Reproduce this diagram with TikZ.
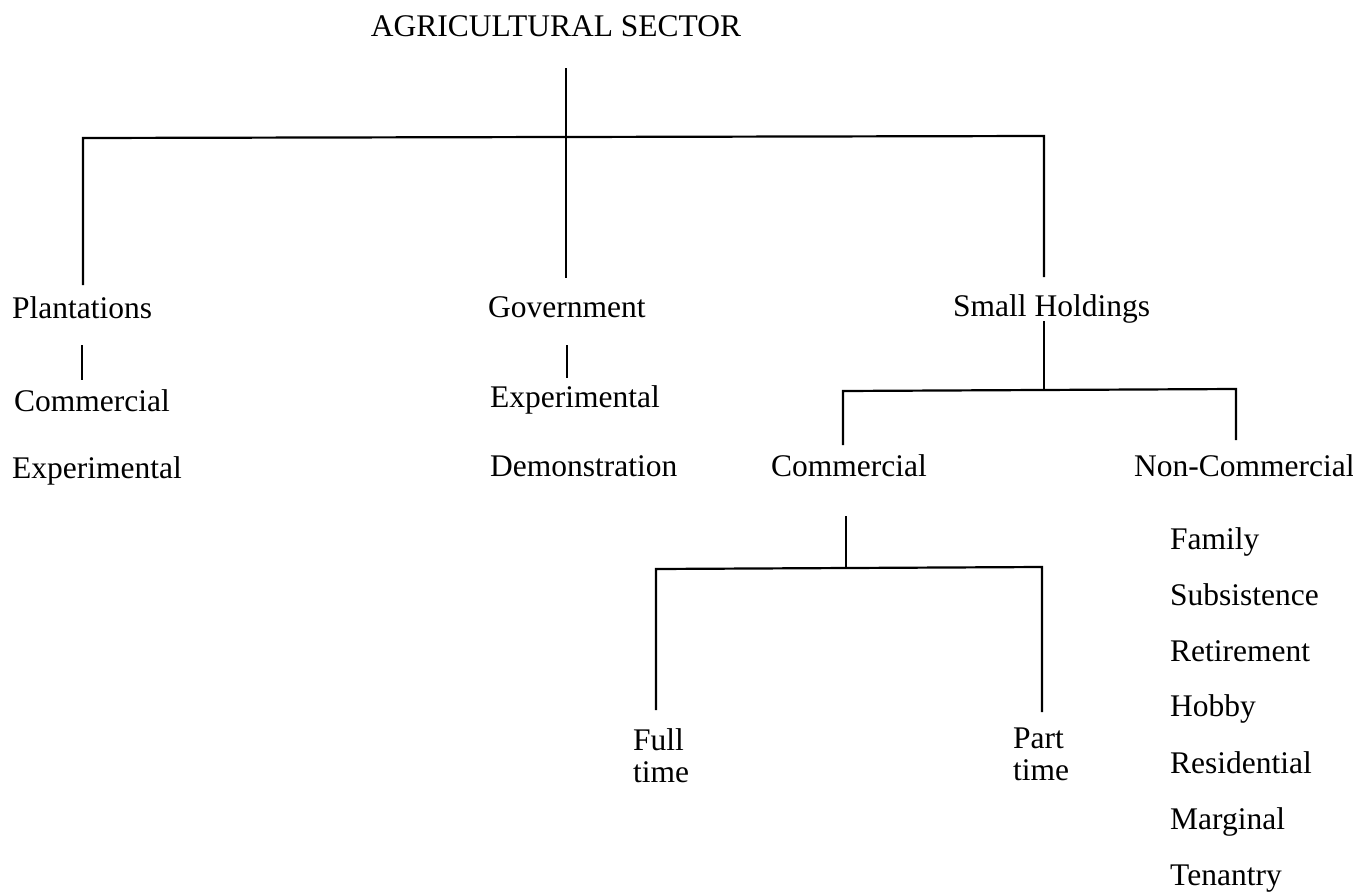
\documentclass[tikz,border=0pt]{standalone}
\usepackage{fontspec}
\setmainfont{Liberation Serif}
\begin{document}
\begin{tikzpicture}[x=1pt,y=-1pt,
  lbl/.style={anchor=base west,inner sep=0pt,font=\fontsize{31.5}{32}\selectfont},
  lbl2/.style={anchor=north west,inner sep=0pt,align=left,font=\fontsize{31.5}{32}\selectfont},
  conn/.style={line width=2.2pt,line cap=butt,line join=miter}]
\useasboundingbox (0,0) rectangle (1353,894);
% nodes
\node[lbl,anchor=base] (agri) at (556,36) {AGRICULTURAL SECTOR};
\node[lbl] (plant) at (12,318) {Plantations};
\node[lbl] (gov) at (488,317) {Government};
\node[lbl] (small) at (953,316) {Small Holdings};
\node[lbl] (pcom) at (14,411) {Commercial};
\node[lbl] (pexp) at (12,478) {Experimental};
\node[lbl] (gexp) at (490,407) {Experimental};
\node[lbl] (gdem) at (490,476) {Demonstration};
\node[lbl] (scom) at (771,476) {Commercial};
\node[lbl] (snon) at (1134,476) {Non-Commercial};
\node[lbl2] (full) at (633,728) {Full\\time};
\node[lbl2] (part) at (1013,728) {Part\\time};
\node[lbl] (fam) at (1170,549) {Family};
\node[lbl] (sub) at (1170,605) {Subsistence};
\node[lbl] (ret) at (1170,661) {Retirement};
\node[lbl] (hob) at (1170,716) {Hobby};
\node[lbl] (res) at (1170,773) {Residential};
\node[lbl] (mar) at (1170,829) {Marginal};
\node[lbl] (ten) at (1170,885) {Tenantry};
% connector coordinates
\coordinate (a0) at (566,68);
\coordinate (bl) at (83,138);
\coordinate (br) at (1044,136);
\coordinate (plTop) at (83,285);
\coordinate (gvTop) at (566,278);
\coordinate (shTop) at (1044,277);
\coordinate (pl1) at (82,345);
\coordinate (pl2) at (82,380);
\coordinate (gv1) at (567,345);
\coordinate (gv2) at (567,378);
\coordinate (sh1) at (1044,321);
\coordinate (sh2) at (1044,389);
\coordinate (sbl) at (843,391);
\coordinate (sbr) at (1236,389);
\coordinate (scTop) at (843,445);
\coordinate (snTop) at (1236,440);
\coordinate (c1) at (846,516);
\coordinate (c2) at (846,568);
\coordinate (cbl) at (656,569);
\coordinate (cbr) at (1042,567);
\coordinate (flTop) at (656,710);
\coordinate (ptTop) at (1042,712);
% connectors
\draw[conn] (a0) -- (gvTop);
\draw[conn] (plTop) -- (bl) -- (br) -- (shTop);
\draw[conn] (pl1) -- (pl2);
\draw[conn] (gv1) -- (gv2);
\draw[conn] (sh1) -- (sh2);
\draw[conn] (scTop) -- (sbl) -- (sbr) -- (snTop);
\draw[conn] (c1) -- (c2);
\draw[conn] (flTop) -- (cbl) -- (cbr) -- (ptTop);
\end{tikzpicture}
\end{document}
